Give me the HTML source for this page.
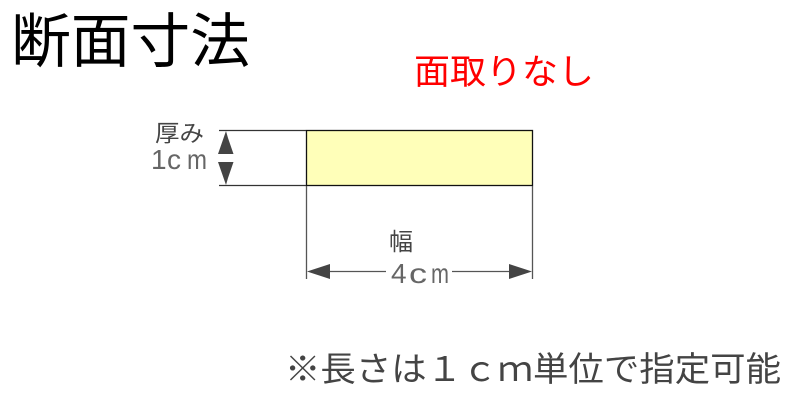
<!DOCTYPE html>
<html><head><meta charset="utf-8"><style>
html,body{margin:0;padding:0;background:#fff}
body{width:800px;height:400px;overflow:hidden;position:relative}
svg{position:absolute;left:0;top:0}
text{font-family:"Liberation Sans","Noto Sans CJK JP",sans-serif}
</style></head><body>
<svg width="800" height="400" viewBox="0 0 800 400">
<rect x="306.500" y="130.500" width="226" height="55" fill="#ffffb9" stroke="#111" stroke-width="1.300"/>
<g stroke="#333" stroke-width="1.200" fill="none">
<path d="M219 130.500H306M219 185.500H306"/>
</g>
<g stroke="#555" stroke-width="1.300" fill="none">
<path d="M306.500 186V279M532.500 186V279"/>
<path d="M330 271.500H386M452 271.500H510"/>
</g>
<g fill="#444">
<path d="M226 131L228 138L233.500 154H218Z"/>
<path d="M226 185L228 178L233.500 162H218Z"/>
<path d="M307 271.500L330 264V279Z"/>
<path d="M532 271.500L509 264V279Z"/>
</g>
<text x="11" y="62" font-size="59" fill="#000" textLength="239" lengthAdjust="spacingAndGlyphs">断面寸法</text>
<text x="414" y="84" font-size="35" fill="#f00" textLength="180" lengthAdjust="spacingAndGlyphs">面取りなし</text>
<text x="155" y="141" font-size="23" fill="#444" textLength="49" lengthAdjust="spacingAndGlyphs">厚み</text>
<g font-size="28" fill="#666">
<text x="151" y="169">1</text>
<text x="167" y="169">c</text>
<text x="187" y="169" textLength="20" lengthAdjust="spacingAndGlyphs">m</text>
<text x="391" y="283">4</text>
<text x="409" y="283" textLength="18" lengthAdjust="spacingAndGlyphs">c</text>
<text x="431" y="283" textLength="18" lengthAdjust="spacingAndGlyphs">m</text>
</g>
<text x="389" y="250" font-size="24" fill="#444">幅</text>
<text x="285" y="381" font-size="34" fill="#444" textLength="496" lengthAdjust="spacingAndGlyphs">※長さは１ｃｍ単位で指定可能</text>
</svg>
</body></html>
